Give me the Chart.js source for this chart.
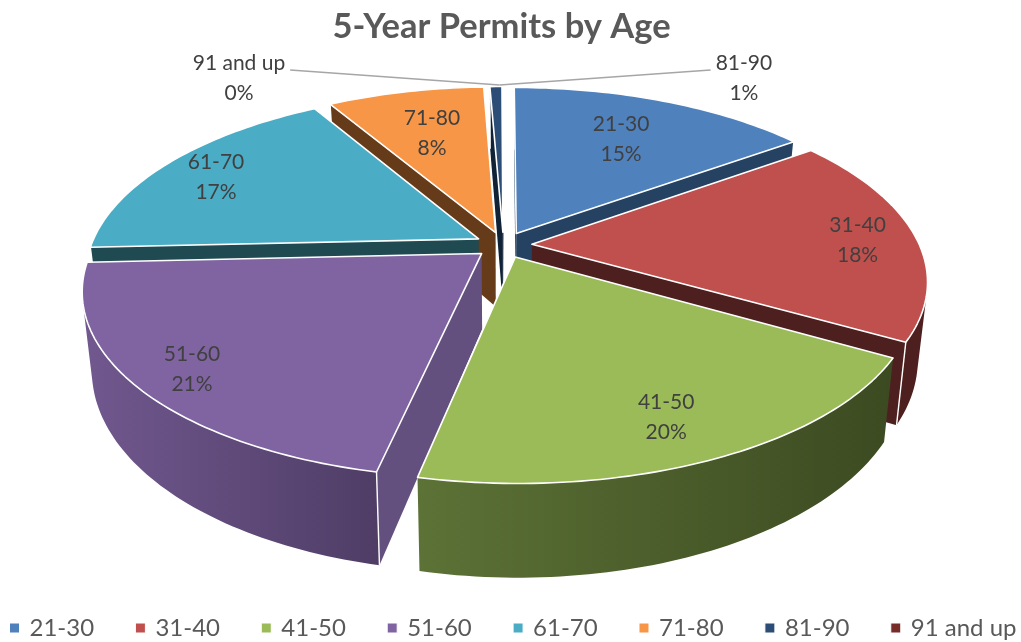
<!DOCTYPE html>
<html>
<head>
<meta charset="utf-8">
<title>5-Year Permits by Age</title>
<script src="https://cdn.jsdelivr.net/npm/chart.js@4"></script>
<style>
  body { margin: 0; background: #fff; }
  canvas { display: block; }
</style>
</head>
<body>
<canvas id="permitChart" width="1021" height="642"></canvas>
<script>
// data
var ageGroups = ['21-30', '31-40', '41-50', '51-60', '61-70', '71-80', '81-90', '91 and up'];
var permitShare = [15, 18.3, 20, 20.9, 17.3, 7.8, 0.6, 0.05];

// colours
var topColours = ['#4f81bd', '#c0504d', '#9bbb59', '#8064a2', '#4bacc6', '#f79646', '#2c4d75', '#772c2a'];
var wallColours = ['#264263', '#4e1f1f', '#5b7035', '#64507f', '#1f4a52', '#653b1a', '#0f2236', '#3b1614'];
var sideLight = ['#264263', '#4e1f1f', '#5c7236', '#71588f', '#1f4a52', '#653b1a', '#0f2236', '#3b1614'];
var sideDark = ['#264263', '#4e1f1f', '#3c4a21', '#4f3d66', '#1f4a52', '#653b1a', '#0f2236', '#3b1614'];

// where the label sits: fraction of the radius along the middle of the slice, plus a small drop
var labelFraction = [0.68, 0.85, 0.8, 0.86, 0.84, 0.67, 1, 1];
var labelDrop = [0, 4, 5, 3, 4, 0, 0, 0];
// the two thin slices get a leader line instead
var calloutShift = [null, null, null, null, null, null, [248, -8], [-264, -8]];

// fake 3D camera for the pie
var cam = { cx: 503.5, cy: 245, rx: 416, ry: 191, k: 0.205, depth: 75, shrink: 0.977 };

function project(u, v, bottom) {
    var s = 1 / (1 - cam.k * v);
    var x = cam.cx + cam.rx * u * s;
    var y = cam.cy + cam.ry * v * s;
    if (bottom) {
        x = cam.cx + (x - cam.cx) * cam.shrink;
        y = y + cam.depth * s;
    }
    return { x: x, y: y };
}

// turns one Chart.js arc into plane coordinates, radius + offset = 1
function sliceGeometry(arc) {
    var p = arc.getProps(['startAngle', 'endAngle', 'outerRadius']);
    var offset = arc.options.offset || 0;
    var total = p.outerRadius + offset;
    var mid = (p.startAngle + p.endAngle) / 2;
    var r = p.outerRadius / total;
    var e = offset / total;
    return {
        a0: p.startAngle, a1: p.endAngle, mid: mid, r: r,
        ax: e * Math.cos(mid), ay: e * Math.sin(mid)
    };
}

function rimPoint(g, a, bottom) {
    return project(g.ax + g.r * Math.cos(a), g.ay + g.r * Math.sin(a), bottom);
}

function facing(p0, p1, p2, p3) {
    var pts = [p0, p1, p2, p3], sum = 0;
    for (var i = 0; i < 4; i++) {
        var n = pts[(i + 1) % 4];
        sum += pts[i].x * n.y - n.x * pts[i].y;
    }
    return sum < 0;
}

function fillPolygon(ctx, pts, fill) {
    ctx.beginPath();
    pts.forEach(function (p, n) {
        if (n === 0) ctx.moveTo(p.x, p.y);
        else ctx.lineTo(p.x, p.y);
    });
    ctx.closePath();
    ctx.fillStyle = fill;
    ctx.fill();
}

function drawSlice(ctx, arc, i) {
    var g = sliceGeometry(arc);
    var steps = Math.max(2, Math.ceil((g.a1 - g.a0) / 0.02));
    var rimTop = [], rimBottom = [];
    for (var n = 0; n <= steps; n++) {
        var a = g.a0 + (g.a1 - g.a0) * n / steps;
        rimTop.push(rimPoint(g, a, false));
        rimBottom.push(rimPoint(g, a, true));
    }
    var apexTop = project(g.ax, g.ay, false);
    var apexBottom = project(g.ax, g.ay, true);
    var last = rimTop.length - 1;

    // cut walls
    var whiteEdges = [];
    if (facing(apexTop, rimTop[0], rimBottom[0], apexBottom)) {
        fillPolygon(ctx, [apexTop, rimTop[0], rimBottom[0], apexBottom], wallColours[i]);
        whiteEdges.push([rimTop[0], rimBottom[0]]);
    }
    if (facing(rimTop[last], apexTop, apexBottom, rimBottom[last])) {
        fillPolygon(ctx, [rimTop[last], apexTop, apexBottom, rimBottom[last]], wallColours[i]);
        whiteEdges.push([rimTop[last], rimBottom[last]]);
    }

    // outer wall, only the part that faces the camera, shaded left to right
    var upper = [], lower = [];
    for (n = 0; n < last; n++) {
        if (facing(rimTop[n], rimTop[n + 1], rimBottom[n + 1], rimBottom[n])) {
            if (!upper.length) {
                upper.push(rimTop[n]);
                lower.push(rimBottom[n]);
            }
            upper.push(rimTop[n + 1]);
            lower.push(rimBottom[n + 1]);
        }
    }
    if (upper.length) {
        var xs = rimTop.map(function (p) { return p.x; });
        var grad = ctx.createLinearGradient(Math.min.apply(null, xs), 0, Math.max.apply(null, xs), 0);
        grad.addColorStop(0, sideLight[i]);
        grad.addColorStop(1, sideDark[i]);
        fillPolygon(ctx, upper.concat(lower.reverse()), grad);
    }

    ctx.strokeStyle = '#ffffff';
    ctx.lineWidth = 1.4;
    whiteEdges.forEach(function (edge) {
        ctx.beginPath();
        ctx.moveTo(edge[0].x, edge[0].y);
        ctx.lineTo(edge[1].x, edge[1].y);
        ctx.stroke();
    });

    // top face
    fillPolygon(ctx, [apexTop].concat(rimTop), topColours[i]);
    ctx.strokeStyle = '#ffffff';
    ctx.lineWidth = 1.6;
    ctx.lineJoin = 'round';
    ctx.stroke();
}

var pie3d = {
    id: 'pie3d',
    beforeLayout: function (chart) {
        // legend items are spaced wider than the canvas allows, keep them on one row
        var legend = chart.legend;
        if (!legend.oneRow) {
            legend.oneRow = true;
            var fit = legend.fit;
            legend.fit = function () {
                this.maxWidth = 1200;
                fit.call(this);
            };
        }
    },
    afterLayout: function (chart) {
        // title sits a bit left of the canvas centre
        chart.titleBlock.left -= 9;
        chart.titleBlock.right -= 9;
        chart.legend.left = -72;
        chart.legend.right = 1100;
        chart.legend.top += 10;
    },
    beforeDatasetsDraw: function (chart) {
        var ctx = chart.ctx;
        var arcs = chart.getDatasetMeta(0).data;
        // paint from the back of the pie to the front
        var order = arcs.map(function (arc, i) { return i; });
        order.sort(function (a, b) {
            return Math.sin(sliceGeometry(arcs[a]).mid) - Math.sin(sliceGeometry(arcs[b]).mid);
        });
        ctx.save();
        order.forEach(function (i) { drawSlice(ctx, arcs[i], i); });
        ctx.restore();
        return false;
    },
    afterDraw: function (chart) {
        var ctx = chart.ctx;
        var arcs = chart.getDatasetMeta(0).data;
        var total = permitShare.reduce(function (a, b) { return a + b; }, 0);
        ctx.save();
        ctx.font = '21px Lato';
        ctx.textAlign = 'center';
        ctx.textBaseline = 'middle';
        arcs.forEach(function (arc, i) {
            var g = sliceGeometry(arc);
            var f = labelFraction[i];
            var pos = project(g.ax + g.r * f * Math.cos(g.mid), g.ay + g.r * f * Math.sin(g.mid), false);
            var x = pos.x, y = pos.y + labelDrop[i];
            if (calloutShift[i]) {
                x += calloutShift[i][0];
                y += calloutShift[i][1];
                var dir = calloutShift[i][0] > 0 ? -1 : 1;
                ctx.strokeStyle = '#a6a6a6';
                ctx.lineWidth = 1.6;
                ctx.beginPath();
                ctx.moveTo(x + dir * (ctx.measureText(ageGroups[i]).width / 2 + 5), 70);
                ctx.lineTo(cam.cx - 4, 85);
                ctx.stroke();
            }
            ctx.fillStyle = '#404040';
            ctx.fillText(ageGroups[i], x, y - 15);
            ctx.fillText(Math.round(permitShare[i] / total * 100) + '%', x, y + 15);
        });
        ctx.restore();
    }
};

var ctx = document.getElementById('permitChart').getContext('2d');

var permitChart = new Chart(ctx, {
    type: 'pie',
    data: {
        labels: ageGroups,
        datasets: [{
            data: permitShare,
            backgroundColor: topColours,
            borderColor: '#ffffff',
            borderWidth: 1,
            offset: 18
        }]
    },
    options: {
        responsive: false,
        animation: false,
        layout: { padding: { top: 4, bottom: 2 } },
        plugins: {
            tooltip: { enabled: false },
            title: {
                display: true,
                text: '5-Year Permits by Age',
                color: '#595959',
                font: { family: 'Lato', size: 34.5, weight: 'bold' },
                padding: { top: 2, bottom: 6 }
            },
            legend: {
                position: 'bottom',
                labels: {
                    color: '#595959',
                    font: { family: 'Lato', size: 24 },
                    usePointStyle: true,
                    pointStyle: 'rect',
                    boxWidth: 6,
                    boxHeight: 10,
                    padding: 43.3
                }
            }
        }
    },
    plugins: [pie3d]
});
</script>
</body>
</html>
